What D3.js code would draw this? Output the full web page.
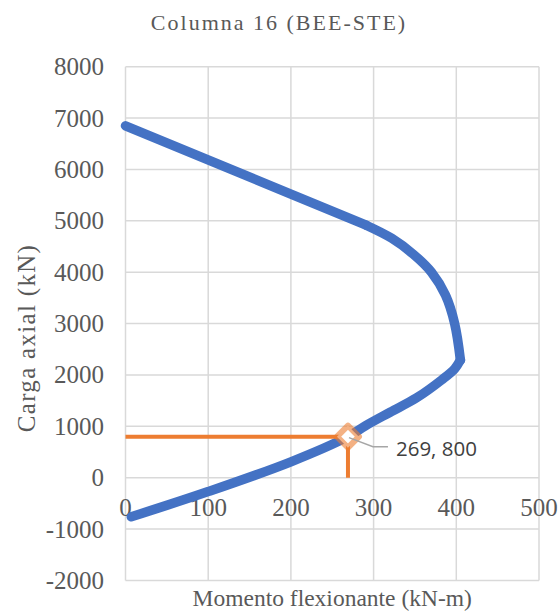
<!DOCTYPE html>
<html><head><meta charset="utf-8">
<script src="https://cdn.jsdelivr.net/npm/d3@7"></script>
<style>html,body{margin:0;padding:0;background:#fff}</style>
</head><body>
<svg id="c" width="560" height="612"></svg>
<script>
// Interaction diagram (M in kN-m, P in kN), three branches
const topM = [0, 200, 291];
const topP = [6850, 5520, 4915];
const upperM = [291, 322, 348, 370, 387, 398, 405];
const upperP = [4915, 4660, 4350, 4000, 3550, 3000, 2290];
const lowerM = [405, 398, 382, 352, 320, 290, 269, 200, 100, 7];
const lowerP = [2290, 2120, 1900, 1555, 1275, 1010, 800, 310, -270, -760];
const demandM = [269];
const demandP = [800];
const xTicks = [0, 100, 200, 300, 400, 500];
const yTicks = [-2000, -1000, 0, 1000, 2000, 3000, 4000, 5000, 6000, 7000, 8000];
const title = "Columna 16 (BEE-STE)";
const xTitle = "Momento flexionante (kN-m)";
const yTitle = "Carga axial (kN)";

const svg = d3.select("#c");
const L = 125.5, R = 539, T = 66.7, B = 580.5;
const x = d3.scaleLinear().domain([0, 500]).range([L, R]);
const y = d3.scaleLinear().domain([-2000, 8000]).range([B, T]);
const serif = "'Liberation Serif','Times New Roman',serif";
const grey = "#595959";

// gridlines
svg.append("g").selectAll("line.h").data(yTicks).join("line")
  .attr("x1", L).attr("x2", R).attr("y1", d => y(d)).attr("y2", d => y(d))
  .attr("stroke", "#D9D9D9").attr("stroke-width", 1.5);
svg.append("g").selectAll("line.v").data(xTicks).join("line")
  .attr("y1", T).attr("y2", B).attr("x1", d => x(d)).attr("x2", d => x(d))
  .attr("stroke", "#D9D9D9").attr("stroke-width", 1.5);

// y tick labels
svg.append("g").selectAll("text").data(yTicks).join("text")
  .attr("x", 104).attr("y", d => y(d)).attr("dy", "0.34em")
  .attr("text-anchor", "end").attr("font-family", serif).attr("font-size", 25)
  .attr("fill", grey).text(d => d);
// x tick labels (at P = 0)
svg.append("g").selectAll("text").data(xTicks).join("text")
  .attr("x", d => x(d)).attr("y", y(0) + 38)
  .attr("text-anchor", "middle").attr("font-family", serif).attr("font-size", 25)
  .attr("fill", grey).text(d => d);

// titles
svg.append("text").attr("x", 279).attr("y", 30).attr("text-anchor", "middle")
  .attr("font-family", serif).attr("font-size", 22).attr("letter-spacing", 2)
  .attr("fill", grey).text(title);
svg.append("text").attr("x", (L + R) / 2).attr("y", 606).attr("text-anchor", "middle")
  .attr("font-family", serif).attr("font-size", 23.5).attr("fill", grey).text(xTitle);
svg.append("text").attr("transform", `translate(35,338) rotate(-90)`).attr("text-anchor", "middle")
  .attr("font-family", serif).attr("font-size", 25).attr("letter-spacing", 1.3)
  .attr("fill", grey).text(yTitle);

// diagram curve
const branch = (M, P) => M.map((m, i) => [m, P[i]]);
const lineGen = d3.line().x(d => x(d[0])).y(d => y(d[1]));
const smoothGen = d3.line().x(d => x(d[0])).y(d => y(d[1])).curve(d3.curveCatmullRom.alpha(0.5));
const g = svg.append("g").attr("fill", "none").attr("stroke", "#4472C4").attr("stroke-width", 9.5)
  .attr("stroke-linejoin", "round").attr("stroke-linecap", "round");
g.append("path").attr("d", lineGen(branch(topM, topP)));
g.append("path").attr("d", smoothGen(branch(upperM, upperP)));
g.append("path").attr("d", smoothGen(branch(lowerM, lowerP)));

// demand lines
const dm = demandM[0], dp = demandP[0];
svg.append("path").datum([[0, dp], [dm, dp], [dm, 0]])
  .attr("d", lineGen)
  .attr("fill", "none").attr("stroke", "#ED7D31").attr("stroke-width", 4);

// marker
const mx = x(dm), my = y(dp), r = 11;
svg.append("path")
  .attr("d", `M${mx},${my - r}L${mx + r},${my}L${mx},${my + r}L${mx - r},${my}Z`)
  .attr("fill", "#fff").attr("stroke", "#ED7D31").attr("stroke-opacity", 0.6)
  .attr("stroke-width", 6).attr("stroke-linejoin", "round");

// leader line and label
svg.append("path").attr("d", `M${mx + 1},${my + 1}L${mx + 25},${my + 10}L${mx + 40},${my + 10}`)
  .attr("fill", "none").attr("stroke", "#A6A6A6").attr("stroke-width", 1.5);
svg.append("text").attr("x", mx + 48).attr("y", my + 12).attr("dy", "0.35em")
  .attr("font-family", "'Open Sans','Liberation Sans',sans-serif").attr("font-size", 20.5)
  .attr("fill", "#404040").text(`${dm}, ${dp}`);
</script>
</body></html>
